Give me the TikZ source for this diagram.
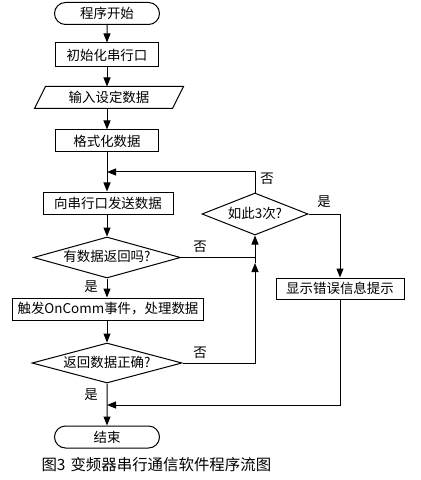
\documentclass[tikz,border=0pt]{standalone}
\usepackage{fontspec}
\setmainfont{Noto Sans CJK SC}
\usetikzlibrary{shapes.geometric,shapes.misc,arrows.meta,calc}
\begin{document}
\begin{tikzpicture}[x=1bp,y=-1bp, line width=1bp,
  every node/.style={font=\fontsize{13.5}{15}\selectfont, inner sep=0pt},
  proc/.style={draw, rectangle, minimum height=22bp},
  term/.style={draw, rounded rectangle, minimum width=105bp, minimum height=22bp},
  dec/.style={draw, diamond, text height=10bp, text depth=2bp},
  arr/.style={-{Triangle[length=9bp,width=7bp]}},
  lbl/.style={font=\fontsize{13.5}{15}\selectfont}]
\useasboundingbox[fill=white] (0,0) rectangle (420,480);
% main column
\node[term] (start) at (107,13.5) {程序开始};
\node[proc, minimum width=103bp, minimum height=24bp] (init) at (107,55) {初始化串行口};
\node[minimum width=137bp, minimum height=21bp] (inp) at (109,97.5) {输入设定数据};
\draw ($(inp.south west)+(-5.5,0)$) -- ($(inp.north west)+(5.5,0)$) -- ($(inp.north east)+(5.5,0)$) -- ($(inp.south east)+(-5.5,0)$) -- cycle;
\node[proc, minimum width=103bp] (fmt) at (107,141) {格式化数据};
\node[proc, minimum width=130bp] (send) at (108,203) {向串行口发送数据};
\node[dec, aspect=4, minimum width=147bp, minimum height=41bp] (d1) at (107,257.5) {有数据返回吗?};
\node[proc, minimum width=190bp] (trig) at (108,309) {触发OnComm事件，处理数据};
\node[dec, aspect=4, minimum width=150bp, minimum height=40bp] (d2) at (107,363) {返回数据正确?};
\node[term] (end) at (107,437) {结束};
% right side
\node[dec, aspect=2.5, minimum width=106bp, minimum height=42bp] (d3) at (255,214) {如此3次?};
\node[proc, minimum width=128bp, minimum height=21bp] (err) at (340,288.5) {显示错误信息提示};
% coordinates
\coordinate (m1) at (107,172);
\coordinate (c3) at (255,172);
\coordinate (j1) at (d1.east -| c3);
\coordinate (j2) at (d2.east -| c3);
\coordinate (a1) at (255,263);
\coordinate (e1) at (d3.east -| err);
\coordinate (e2) at (340,405);
\coordinate (m2) at (107,405);
% connectors
\draw[arr] (start) -- (init);
\draw[arr] (init) -- (inp.north -| init);
\draw[arr] (inp.south -| fmt) -- (fmt);
\draw[arr] (fmt) -- (send.north -| fmt);
\draw[arr] (send.south -| d1) -- (d1);
\draw[arr] (d1) -- (trig.north -| d1);
\draw[arr] (trig.south -| d2) -- (d2);
\draw[arr] (d2) -- (end);
\draw[arr] (d3.north) -- (c3) -- (m1);
\draw (d1.east) -- (j1);
\draw[arr] (d2.east) -- (j2) -- (a1);
\draw[arr] (a1) -- (d3.south);
\draw[arr] (d3.east) -- (e1) -- (err.north);
\draw[arr] (err.south) -- (e2) -- (m2);
% labels
\node[lbl] (l1) at (267,179) {否};
\node[lbl] (l2) at (324,202) {是};
\node[lbl] (l3) at (200,247) {否};
\node[lbl] (l4) at (200,353) {否};
\node[lbl] (l5) at (91,287) {是};
\node[lbl] (l6) at (91,395) {是};
% caption
\node[anchor=west, font=\fontsize{15.5}{17}\selectfont] (cap) at (41,465) {图3\hspace{5bp}变频器串行通信软件程序流图};
\end{tikzpicture}
\end{document}
